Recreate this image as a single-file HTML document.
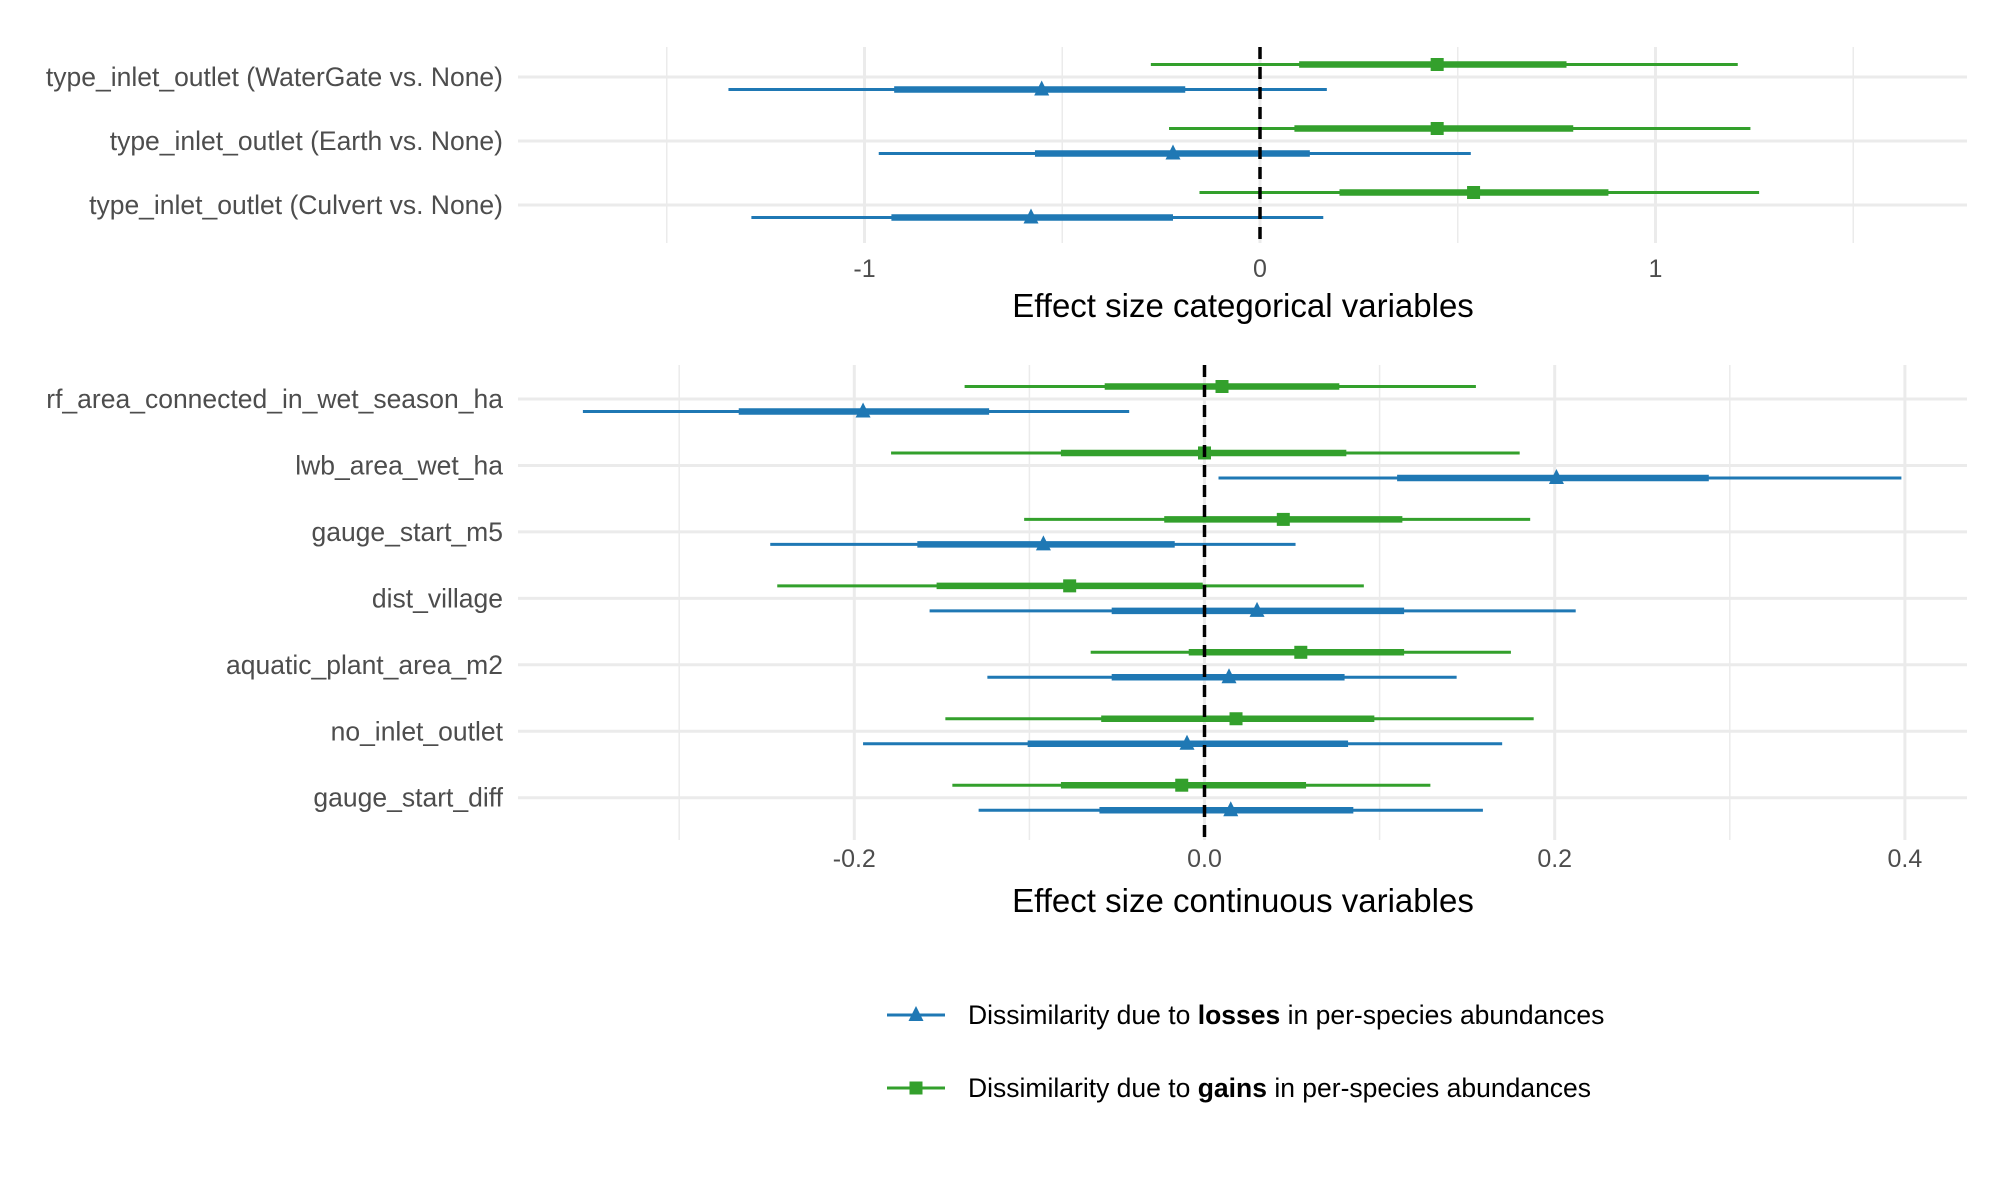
<!DOCTYPE html>
<html><head><meta charset="utf-8">
<style>
html,body{margin:0;padding:0;background:#fff;}
svg{display:block;font-family:"Liberation Sans",sans-serif;}
</style></head>
<body>
<svg id="chart" width="2007" height="1181" viewBox="0 0 2007 1181" xmlns="http://www.w3.org/2000/svg">
<rect width="2007" height="1181" fill="#fff"/>
<g id="top"></g>
<g id="bot"></g>
<g id="legend"></g>
</svg>
<script>
// Top panel data (categorical)
const catLabels = ["type_inlet_outlet (WaterGate vs. None)","type_inlet_outlet (Earth vs. None)","type_inlet_outlet (Culvert vs. None)"];
const catGainLo = [-0.276,-0.230,-0.153];
const catGainIlo = [0.099,0.087,0.201];
const catGainPt = [0.448,0.448,0.540];
const catGainIhi = [0.775,0.792,0.881];
const catGainHi = [1.208,1.240,1.262];
const catLossLo = [-1.344,-0.964,-1.286];
const catLossIlo = [-0.925,-0.569,-0.932];
const catLossPt = [-0.552,-0.220,-0.579];
const catLossIhi = [-0.189,0.126,-0.220];
const catLossHi = [0.169,0.533,0.160];
const catTicks = [-1,0,1];
const catTickLabels = ["-1","0","1"];
const catMinor = [-1.5,-0.5,0.5,1.5];

// Bottom panel data (continuous)
const conLabels = ["rf_area_connected_in_wet_season_ha","lwb_area_wet_ha","gauge_start_m5","dist_village","aquatic_plant_area_m2","no_inlet_outlet","gauge_start_diff"];
const conGainLo = [-0.137,-0.179,-0.103,-0.244,-0.065,-0.148,-0.144];
const conGainIlo = [-0.057,-0.082,-0.023,-0.153,-0.009,-0.059,-0.082];
const conGainPt = [0.010,0.000,0.045,-0.077,0.055,0.018,-0.013];
const conGainIhi = [0.077,0.081,0.113,-0.001,0.114,0.097,0.058];
const conGainHi = [0.155,0.180,0.186,0.091,0.175,0.188,0.129];
const conLossLo = [-0.355,0.008,-0.248,-0.157,-0.124,-0.195,-0.129];
const conLossIlo = [-0.266,0.110,-0.164,-0.053,-0.053,-0.101,-0.060];
const conLossPt = [-0.195,0.201,-0.092,0.030,0.014,-0.010,0.015];
const conLossIhi = [-0.123,0.288,-0.017,0.114,0.080,0.082,0.085];
const conLossHi = [-0.043,0.398,0.052,0.212,0.144,0.170,0.159];
const conTicks = [-0.2,0.0,0.2,0.4];
const conTickLabels = ["-0.2","0.0","0.2","0.4"];
const conMinor = [-0.3,-0.1,0.1,0.3];

const NS="http://www.w3.org/2000/svg";
const BLUE="#1f78b4", GREEN="#33a02c";
function mk(parent,tag,attrs,text){const e=document.createElementNS(NS,tag);for(const k in attrs)e.setAttribute(k,attrs[k]);if(text!==undefined)e.textContent=text;parent.appendChild(e);return e;}

function panel(g,cfg){
  const x=v=>cfg.x0+v*cfg.xs;
  const xl=518, xr=1967;
  cfg.minor.forEach(v=>{const l=mk(g,'line',{x1:x(v),x2:x(v),y1:cfg.top,y2:cfg.bottom,stroke:'#ebebeb','stroke-width':1.5});
    
    });
  cfg.ticks.forEach((v,i)=>{const l=mk(g,'line',{x1:x(v),x2:x(v),y1:cfg.top,y2:cfg.bottom,stroke:'#ebebeb','stroke-width':3});
    
    
    const t=mk(g,'text',{x:x(v),y:cfg.tickY,'text-anchor':'middle','font-size':25,fill:'#4d4d4d'},cfg.tickLabels[i]);
    
    });
  cfg.labels.forEach((lab,i)=>{const y=cfg.row0+i*cfg.step;
    const l=mk(g,'line',{x1:xl,x2:xr,y1:y,y2:y,stroke:'#ebebeb','stroke-width':3});
    
    
    const t=mk(g,'text',{x:503,y:y+9,'text-anchor':'end','font-size':26.5,fill:'#4d4d4d'},lab);
    
    });
  const series=[
    {c:GREEN,off:-12.5,lo:cfg.gLo,ilo:cfg.gIlo,pt:cfg.gPt,ihi:cfg.gIhi,hi:cfg.gHi,shape:'sq',n:'gain'},
    {c:BLUE,off:12.5,lo:cfg.lLo,ilo:cfg.lIlo,pt:cfg.lPt,ihi:cfg.lIhi,hi:cfg.lHi,shape:'tri',n:'loss'}];
  series.forEach(s=>{
    cfg.labels.forEach((lab,i)=>{const y=cfg.row0+i*cfg.step+s.off;
      const a=mk(g,'line',{x1:x(s.lo[i]),x2:x(s.hi[i]),y1:y,y2:y,stroke:s.c,'stroke-width':3});
      
      
      const b=mk(g,'line',{x1:x(s.ilo[i]),x2:x(s.ihi[i]),y1:y,y2:y,stroke:s.c,'stroke-width':6.5});
      
      
      const px=x(s.pt[i]);let m;
      if(s.shape==='sq'){m=mk(g,'rect',{x:px-6.5,y:y-6.5,width:13,height:13,fill:s.c});}
      else{m=mk(g,'polygon',{points:`${px},${y-9} ${px-7.5},${y+6} ${px+7.5},${y+6}`,fill:s.c});}
      
      
    });
  });
  const z=mk(g,'line',{x1:x(0),x2:x(0),y1:cfg.top,y2:cfg.bottom,stroke:'#000','stroke-width':3.5,'stroke-dasharray':'12 8'});
  
  
  const t=mk(g,'text',{x:1243,y:cfg.titleY,'text-anchor':'middle','font-size':33,fill:'#000'},cfg.title);
  
  
}

panel(document.getElementById('top'),{x0:1260,xs:395.5,top:47,bottom:243,row0:77,step:64,labels:catLabels,
  gLo:catGainLo,gIlo:catGainIlo,gPt:catGainPt,gIhi:catGainIhi,gHi:catGainHi,
  lLo:catLossLo,lIlo:catLossIlo,lPt:catLossPt,lIhi:catLossIhi,lHi:catLossHi,
  ticks:catTicks,tickLabels:catTickLabels,minor:catMinor,tickY:277,titleY:317,title:"Effect size categorical variables"});
panel(document.getElementById('bot'),{x0:1204.5,xs:1751,top:365,bottom:840,row0:399,step:66.45,labels:conLabels,
  gLo:conGainLo,gIlo:conGainIlo,gPt:conGainPt,gIhi:conGainIhi,gHi:conGainHi,
  lLo:conLossLo,lIlo:conLossIlo,lPt:conLossPt,lIhi:conLossIhi,lHi:conLossHi,
  ticks:conTicks,tickLabels:conTickLabels,minor:conMinor,tickY:867,titleY:912,title:"Effect size continuous variables"});

// legend
const lg=document.getElementById('legend');
[[1015,BLUE,'tri','losses'],[1088,GREEN,'sq','gains']].forEach(([y,c,sh,w])=>{
  const l=mk(lg,'line',{x1:887,x2:945,y1:y,y2:y,stroke:c,'stroke-width':3});
  
  
  let m; const px=916;
  if(sh==='sq'){m=mk(lg,'rect',{x:px-6.5,y:y-6.5,width:13,height:13,fill:c});}
  else{m=mk(lg,'polygon',{points:`${px},${y-9} ${px-7.5},${y+6} ${px+7.5},${y+6}`,fill:c});}
  
  
  const t=mk(lg,'text',{x:968,y:y+9,'font-size':26.5,fill:'#000'});
  
  
  mk(t,'tspan',{},'Dissimilarity due to ');
  mk(t,'tspan',{'font-weight':'bold'},w);
  mk(t,'tspan',{},' in per-species abundances');
});
</script>
</body></html>
